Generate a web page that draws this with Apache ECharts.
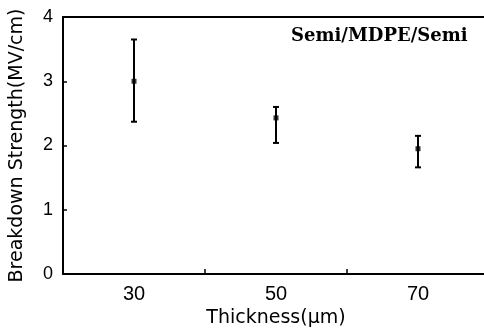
<!DOCTYPE html>
<html>
<head>
<meta charset="utf-8">
<script src="https://cdn.jsdelivr.net/npm/echarts@6/dist/echarts.min.js"></script>
<style>html,body{margin:0;padding:0;background:#fff}#c{width:484px;height:329px}</style>
</head>
<body>
<div id="c"></div>
<script>
var categories = ['30', '50', '70'];
var means = [3.0, 2.43, 1.95];
var lows = [2.37, 2.04, 1.66];
var highs = [3.65, 2.60, 2.15];
var yTicks = [0, 1, 2, 3, 4];
var xTitle = 'Thickness(\u00b5m)';
var yTitle = 'Breakdown Strength(MV/cm)';
var label = 'Semi/MDPE/Semi';

var chart = echarts.init(document.getElementById('c'), null, {renderer: 'canvas'});
var errData = categories.map(function (c, i) { return [i, lows[i], highs[i]]; });
chart.setOption({
  animation: false,
  backgroundColor: '#fff',
  grid: {left: 63, width: 426, top: 17, height: 257, show: false,
         outerBoundsMode: 'none', containLabel: false},
  title: {
    text: label, left: 286, top: 22,
    textStyle: {fontFamily: 'DejaVu Serif', fontWeight: 'bold', fontSize: 18, color: '#000'}
  },
  xAxis: [{
    type: 'category', data: categories, boundaryGap: true,
    name: xTitle, nameLocation: 'middle', nameGap: 31,
    nameTextStyle: {fontFamily: 'DejaVu Sans', fontSize: 19, color: '#000'},
    axisLine: {show: true, lineStyle: {color: '#000', width: 2}},
    axisTick: {show: true, interval: 0, alignWithLabel: false, inside: true, length: 5, lineStyle: {color: '#000', width: 1.5}},
    axisLabel: {fontFamily: 'Liberation Sans', fontSize: 20, color: '#000', margin: 10},
    splitLine: {show: false}
  }, {
    type: 'category', data: categories, position: 'top',
    axisLine: {show: true, lineStyle: {color: '#000', width: 2}},
    axisTick: {show: false}, axisLabel: {show: false}, splitLine: {show: false}
  }],
  yAxis: {
    type: 'value', min: yTicks[0], max: yTicks[yTicks.length - 1], interval: 1,
    name: yTitle, nameLocation: 'middle', nameGap: 36,
    nameTextStyle: {fontFamily: 'DejaVu Sans', fontSize: 19, color: '#000'},
    axisLine: {show: true, lineStyle: {color: '#000', width: 2}},
    axisTick: {show: true, inside: true, length: 4, lineStyle: {color: '#000', width: 1.5}},
    axisLabel: {fontFamily: 'Liberation Sans', fontSize: 18, color: '#000', margin: 10},
    splitLine: {show: false}
  },
  series: [
    {
      type: 'custom',
      data: errData,
      renderItem: function (params, api) {
        var x = api.value(0);
        var lo = api.coord([x, api.value(1)]);
        var hi = api.coord([x, api.value(2)]);
        var hw = 3;
        var st = {stroke: '#000', lineWidth: 2};
        return {
          type: 'group',
          children: [
            {type: 'line', shape: {x1: lo[0], y1: lo[1], x2: hi[0], y2: hi[1]}, style: st},
            {type: 'line', shape: {x1: lo[0] - hw, y1: lo[1], x2: lo[0] + hw, y2: lo[1]}, style: st},
            {type: 'line', shape: {x1: hi[0] - hw, y1: hi[1], x2: hi[0] + hw, y2: hi[1]}, style: st}
          ]
        };
      },
      z: 2
    },
    {
      type: 'scatter',
      data: means,
      symbol: 'rect',
      symbolSize: 5,
      itemStyle: {color: '#000'},
      z: 3
    }
  ]
});
</script>
</body>
</html>
